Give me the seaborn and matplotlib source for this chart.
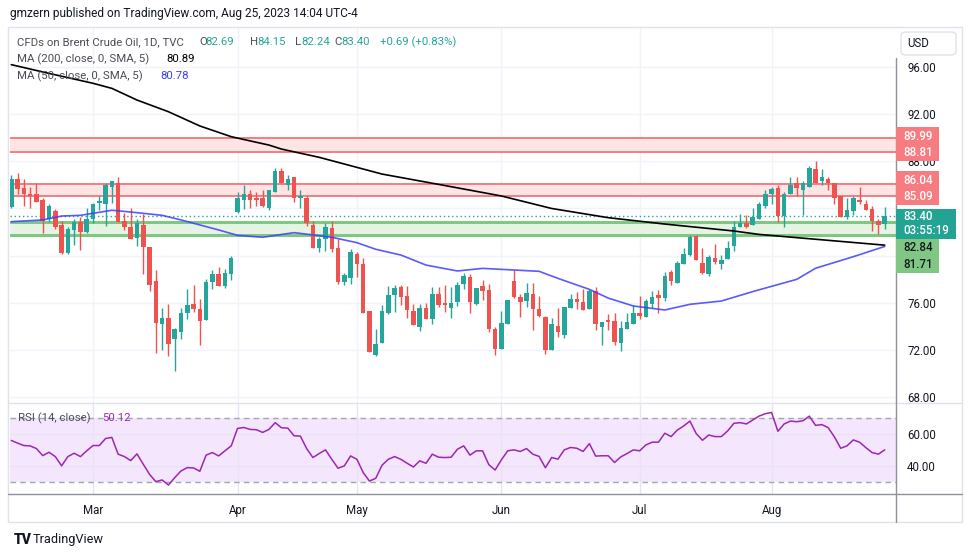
import matplotlib
matplotlib.use("Agg")
import matplotlib.pyplot as plt
from matplotlib.patches import Rectangle, FancyBboxPatch
from matplotlib.lines import Line2D
import seaborn as sns
import numpy as np

sns.set_style("white")
plt.rcParams['font.family'] = ['Roboto', 'DejaVu Sans']

# Daily candles, Brent CFD (TVC), mid Feb - Aug 25 2023
opens = [84.14, 86.54, 85.78, 85.27, 85.19, 84.68, 83.07, 83.75, 82.56, 80.21,
         82.16, 82.82, 82.00, 83.10, 84.45, 84.37, 85.80, 86.20, 82.90, 82.47,
         81.49, 82.56, 80.72, 77.81, 74.20, 74.68, 72.93, 73.52, 75.10, 75.89,
         75.44, 74.54, 77.79, 78.41, 77.39, 78.44, 83.66, 84.76, 85.19, 84.85,
         84.85, 84.08, 85.44, 87.22, 86.03, 86.71, 84.93, 84.93, 82.64, 80.69,
         81.37, 82.31, 80.69, 77.73, 78.07, 80.10, 79.25, 75.27, 71.54, 72.56,
         75.10, 76.63, 77.30, 76.54, 75.27, 73.92, 75.53, 74.59, 76.71, 75.95,
         75.53, 76.03, 77.56, 78.15, 75.86, 77.39, 77.05, 73.75, 72.05, 74.17,
         77.81, 76.46, 76.12, 76.71, 75.44, 74.76, 71.97, 74.00, 73.24, 75.53,
         76.29, 76.03, 75.44, 76.97, 73.92, 74.51, 74.42, 72.56, 73.75, 74.17,
         75.10, 74.76, 75.86, 76.63, 76.37, 78.58, 77.64, 79.25, 80.02, 81.63,
         79.34, 78.41, 79.76, 79.25, 79.68, 80.78, 82.47, 82.73, 82.64, 83.15,
         84.17, 85.19, 85.78, 83.35, 85.19, 86.20, 85.61, 85.86, 87.39, 86.29,
         86.54, 86.12, 85.02, 83.24, 83.75, 84.76, 84.42, 83.92, 82.98, 82.69]
highs = [86.88, 86.97, 86.46, 85.86, 86.20, 84.85, 84.34, 83.92, 82.98, 82.47,
         83.07, 83.24, 84.00, 84.50, 85.10, 86.20, 86.37, 86.71, 83.58, 84.00,
         83.07, 83.49, 80.75, 78.75, 75.53, 75.86, 73.83, 75.53, 77.14, 77.47,
         76.29, 77.98, 78.75, 79.00, 78.83, 79.93, 85.36, 86.03, 85.53, 85.44,
         85.53, 85.61, 87.47, 87.47, 86.88, 86.71, 85.61, 85.10, 82.90, 81.54,
         82.81, 82.90, 81.37, 78.49, 80.53, 80.27, 79.76, 75.27, 73.75, 75.78,
         77.39, 77.47, 77.47, 77.39, 75.86, 75.86, 75.95, 77.30, 77.30, 77.47,
         77.30, 77.73, 78.49, 78.41, 77.22, 77.90, 77.56, 73.92, 75.27, 76.20,
         78.75, 76.71, 77.64, 77.64, 76.54, 74.85, 74.68, 75.53, 75.61, 76.71,
         76.88, 77.14, 77.14, 77.30, 74.34, 75.02, 75.10, 74.42, 75.10, 75.78,
         76.54, 76.29, 76.97, 77.05, 78.58, 78.75, 79.51, 80.61, 81.71, 81.71,
         80.61, 80.02, 80.95, 80.02, 81.20, 82.90, 83.49, 83.41, 84.08, 84.51,
         85.61, 85.86, 85.95, 85.44, 86.63, 86.71, 86.37, 87.64, 88.07, 87.39,
         86.71, 86.12, 85.02, 84.85, 85.10, 85.86, 84.68, 84.25, 83.15, 84.15]
lows = [84.06, 85.24, 84.25, 84.00, 84.55, 81.88, 82.84, 82.30, 80.15, 80.15,
        80.90, 80.49, 81.95, 82.76, 83.90, 82.50, 84.50, 82.84, 82.14, 81.37,
        80.80, 78.43, 77.00, 71.77, 71.97, 71.49, 70.21, 72.93, 74.62, 75.21,
        72.42, 74.54, 77.19, 77.42, 77.25, 77.95, 83.58, 83.92, 84.08, 84.17,
        84.15, 83.83, 85.44, 86.12, 85.61, 84.59, 84.00, 82.50, 80.69, 80.27,
        80.36, 80.27, 77.56, 77.47, 77.56, 78.15, 75.10, 71.80, 71.46, 72.56,
        75.02, 75.19, 75.78, 74.68, 74.08, 73.58, 74.59, 74.17, 75.61, 75.19,
        74.68, 75.70, 77.14, 75.10, 75.78, 76.20, 73.49, 71.54, 72.05, 74.17,
        76.37, 74.76, 75.61, 73.66, 74.76, 71.63, 71.97, 73.07, 72.98, 75.53,
        75.44, 75.36, 75.44, 73.66, 72.39, 73.66, 72.39, 71.88, 73.75, 74.17,
        74.59, 74.76, 75.53, 75.10, 76.12, 77.47, 77.64, 79.25, 79.93, 79.59,
        78.41, 78.24, 79.25, 78.83, 79.68, 80.36, 82.47, 82.31, 82.64, 83.15,
        84.00, 84.34, 82.84, 82.39, 85.19, 85.10, 83.41, 85.86, 86.20, 85.95,
        85.61, 84.42, 83.32, 83.15, 83.41, 84.42, 83.83, 82.05, 81.80, 82.24]
closes = [86.46, 85.69, 85.19, 85.10, 84.59, 82.93, 84.25, 82.47, 80.21, 82.22,
          82.82, 82.00, 83.15, 84.34, 84.60, 85.95, 86.29, 82.87, 82.39, 81.40,
          82.73, 80.72, 77.50, 74.28, 74.68, 72.47, 73.75, 75.10, 75.80, 75.47,
          74.45, 77.73, 78.41, 77.42, 78.49, 79.76, 84.85, 85.27, 84.76, 84.68,
          84.17, 85.53, 87.22, 86.20, 86.46, 84.93, 85.10, 82.73, 80.69, 81.37,
          82.39, 80.53, 77.73, 78.32, 80.27, 79.25, 75.10, 71.80, 72.47, 75.27,
          76.63, 77.22, 76.46, 75.36, 74.08, 75.53, 74.59, 76.71, 75.78, 75.78,
          75.95, 77.47, 78.24, 76.03, 77.22, 76.97, 73.75, 72.05, 74.25, 76.20,
          76.46, 76.03, 76.80, 75.44, 74.85, 71.97, 74.17, 73.49, 75.61, 76.29,
          76.03, 75.36, 76.97, 74.17, 74.34, 74.34, 72.64, 73.83, 74.34, 75.10,
          74.85, 76.12, 76.46, 76.37, 78.24, 77.81, 79.34, 80.10, 81.54, 79.59,
          78.49, 79.85, 79.42, 79.59, 80.69, 82.47, 82.81, 82.47, 83.32, 84.42,
          85.27, 85.69, 83.35, 85.19, 86.03, 85.78, 86.12, 87.47, 86.20, 86.63,
          86.12, 84.93, 83.32, 83.83, 84.85, 84.51, 83.83, 82.90, 82.64, 83.40]

# moving averages read at sample bars (bar index, value)
ma200_idx = [0, 6, 13, 16, 20, 25, 30, 35, 41, 43, 49, 59, 70, 78, 86, 95, 104, 115, 119, 128, 139]
ma200_val = [96.20, 95.46, 94.62, 94.19, 93.20, 92.21, 91.00, 90.09, 89.38, 89.04, 88.34,
             86.92, 85.85, 85.06, 84.00, 83.22, 82.68, 82.09, 81.80, 81.39, 80.89]
ma50_idx = [0, 5, 8, 11, 16, 19, 24, 27, 33, 36, 40, 45, 51, 55, 58, 62, 66, 71, 75, 84,
            87, 92, 95, 99, 104, 108, 113, 118, 125, 128, 134, 139]
ma50_val = [82.88, 83.03, 83.36, 83.42, 83.85, 83.70, 83.42, 83.03, 82.18, 81.72, 81.56,
            81.95, 81.56, 81.10, 80.54, 80.05, 79.20, 78.70, 78.92, 78.67, 78.07, 77.14,
            76.40, 75.73, 75.39, 75.87, 76.15, 76.95, 77.99, 78.93, 79.91, 80.78]

rsi = [56.0, 54.3, 52.8, 52.6, 50.9, 46.5, 48.6, 45.9, 40.1, 45.9,
       48.0, 45.9, 49.5, 52.8, 52.8, 57.2, 57.9, 47.4, 45.9, 43.4,
       47.6, 41.1, 34.8, 30.2, 31.3, 28.1, 32.7, 36.9, 39.0, 38.8,
       36.7, 46.8, 48.4, 46.3, 49.5, 52.6, 63.5, 64.1, 62.9, 62.7,
       61.0, 62.9, 67.1, 63.9, 63.7, 58.9, 58.7, 50.9, 45.3, 47.8,
       50.1, 44.2, 38.6, 40.1, 46.3, 44.2, 35.9, 30.6, 32.3, 40.5,
       44.2, 45.9, 44.2, 41.7, 39.4, 43.2, 41.7, 47.4, 45.5, 45.3,
       45.5, 50.5, 52.6, 46.8, 49.5, 49.5, 40.8, 37.5, 43.9, 49.5,
       50.1, 49.1, 50.9, 47.4, 46.0, 38.9, 45.3, 44.3, 50.1, 51.6,
       51.1, 49.1, 54.0, 46.2, 46.4, 46.4, 42.2, 45.7, 47.8, 50.1,
       49.5, 53.2, 54.9, 54.9, 60.5, 58.4, 62.5, 65.0, 68.1, 60.3,
       56.1, 59.4, 58.4, 58.4, 61.9, 66.7, 67.1, 66.3, 68.8, 71.2,
       72.7, 73.5, 61.7, 66.3, 68.1, 67.7, 68.3, 71.2, 65.4, 65.9,
       64.0, 58.2, 51.1, 52.6, 56.3, 54.9, 51.5, 48.4, 47.4, 50.1]

month_labels = ["Mar", "Apr", "May", "Jun", "Jul", "Aug"]
month_idx = [13, 36, 55, 78, 100, 121]
price_ticks = [68, 72, 76, 80, 84, 88, 92, 96]

red_zones = [(88.81, 89.99), (85.09, 86.04)]
green_zone = (81.71, 82.84)
last_price = 83.40

TEAL = '#26a69a'
RED = '#ef5350'
GRID = '#f0f3fa'
TXT = '#131722'
LBL = '#4a4d57'

W, H = 970, 557
fig = plt.figure(figsize=(W / 100, H / 100), dpi=100)


def fx(x):
    return x / W


def fy(y):
    return 1 - y / H


# panes (pixel layout of the screenshot)
ax = fig.add_axes([fx(10), fy(403), (896 - 10) / W, (403 - 28) / H])
ax_rsi = fig.add_axes([fx(10), fy(494), (896 - 10) / W, (494 - 403) / H])

idx = np.arange(len(closes))
o = np.array(opens); c = np.array(closes)
cols = np.where(c >= o, TEAL, RED)

# zones
for lo, hi in red_zones:
    ax.axhspan(lo, hi, color='#fde4e5', lw=0, zorder=1)
    ax.axhline(lo, color='#f77c80', lw=1.4, zorder=2)
    ax.axhline(hi, color='#f77c80', lw=1.4, zorder=2)
ax.axhspan(green_zone[0], green_zone[1], color='#e6f4e4', lw=0, zorder=1)
ax.axhline(green_zone[0], color='#81c784', lw=2.2, zorder=2)
ax.axhline(green_zone[1], color='#81c784', lw=2.2, zorder=2)

# candles
ax.vlines(idx, lows, highs, colors=cols, lw=1, zorder=4)
body_h = np.maximum(np.abs(c - o), 0.07)
ax.bar(idx, body_h, bottom=np.minimum(o, c), width=0.72, color=cols, lw=0, zorder=5)

ax.axhline(last_price, color=TEAL, lw=1, ls=(0, (1, 2)), zorder=3)

sns.lineplot(x=ma200_idx, y=ma200_val, ax=ax, color='black', lw=1.2, zorder=6)
sns.lineplot(x=ma50_idx, y=ma50_val, ax=ax, color='#3d3dff', lw=1.2, alpha=0.85, zorder=6)

ax.set_xlim(-0.21, 140.8)
ax.set_ylim(67.5, 99.31)
ax.set_yticks(price_ticks)
# 84 and 80 sit under the price-scale boxes
ax.set_yticklabels(["" if t in (80, 84) else f"{t:.2f}" for t in price_ticks])
ax.set_xticks(month_idx)
ax.set_xticklabels([])
ax.yaxis.tick_right()
ax.tick_params(axis='both', length=0)
ax.tick_params(axis='y', pad=8, labelsize=8.3, labelcolor=TXT)
ax.grid(True, color=GRID, lw=1)
ax.set_xlabel('')
ax.set_ylabel('')
for s in ax.spines.values():
    s.set_visible(False)

# RSI pane
ax_rsi.axhspan(30, 70, color='#f3e6fd', lw=0, zorder=0)
ax_rsi.axhline(70, color='#a3a6ae', lw=1, ls=(0, (4, 3)), zorder=1)
ax_rsi.axhline(30, color='#a3a6ae', lw=1, ls=(0, (4, 3)), zorder=1)
sns.lineplot(x=idx, y=rsi, ax=ax_rsi, color='#9c27b0', lw=1.1, zorder=3)
ax_rsi.set_xlim(-0.21, 140.8)
ax_rsi.set_ylim(22.5, 79.4)
ax_rsi.set_yticks([40, 60])
ax_rsi.set_yticklabels(["40.00", "60.00"])
ax_rsi.set_xticks(month_idx)
ax_rsi.set_xticklabels(month_labels)
ax_rsi.yaxis.tick_right()
ax_rsi.tick_params(axis='both', length=0, labelsize=8.3, labelcolor=TXT)
ax_rsi.tick_params(axis='y', pad=8)
ax_rsi.tick_params(axis='x', pad=7)
ax_rsi.grid(True, color='#e9e3f5', lw=1)
ax_rsi.set_xlabel('')
ax_rsi.set_ylabel('')
for s in ax_rsi.spines.values():
    s.set_visible(False)

# frame lines
fig.add_artist(Rectangle((fx(8), fy(522)), (962 - 8) / W, (522 - 27) / H, transform=fig.transFigure,
                         fill=False, ec='#e0e3eb', lw=1))
fig.add_artist(Line2D([fx(8), fx(962)], [fy(403), fy(403)], transform=fig.transFigure, color='#e0e3eb', lw=1))
fig.add_artist(Line2D([fx(8), fx(962)], [fy(494), fy(494)], transform=fig.transFigure, color='#8f929b', lw=1))
fig.add_artist(Line2D([fx(896), fx(896)], [fy(58), fy(522)], transform=fig.transFigure, color='#8f929b', lw=1))

# USD button
fig.add_artist(FancyBboxPatch((fx(901), fy(55)), 55 / W, 23 / H, boxstyle="round,pad=0,rounding_size=0.006",
                              transform=fig.transFigure, fc='white', ec='#e0e3eb', lw=1))
fig.text(fx(918), fy(43.5), "USD", fontsize=8.3, color=TXT, ha='center', va='center')


# price scale labels
def scale_box(y0, y1, color, width=43):
    fig.add_artist(Rectangle((fx(896), fy(y1)), width / W, (y1 - y0) / H, transform=fig.transFigure,
                             fc=color, ec='none', zorder=5))


def scale_text(y, s, color):
    fig.text(fx(903), fy(y), s, fontsize=8.3, color=color, ha='left', va='center',
             fontweight='medium', zorder=6)


scale_box(127.5, 161, '#f77c80')
scale_text(136, "89.99", 'white')
scale_text(152.5, "88.81", 'white')
scale_box(171.5, 205, '#f77c80')
scale_text(180, "86.04", 'white')
scale_text(196.5, "85.09", 'white')
scale_box(208.5, 238.5, '#22a394', width=60)
scale_text(216.5, f"{last_price:.2f}", 'white')
scale_text(230.5, "03:55:19", 'white')
scale_box(239.5, 272.5, '#81c784')
scale_text(248, "82.84", TXT)
scale_text(264, "81.71", TXT)

# header and legends
fig.text(fx(10), fy(13), "gmzern published on TradingView.com, Aug 25, 2023 14:04 UTC-4",
         fontsize=8.6, color=TXT, va='center')
fs = 8.2
fig.text(fx(17), fy(42), "CFDs on Brent Crude Oil, 1D, TVC", fontsize=fs, color=LBL, va='center')
for xl, letter, xv, val in [(199, "O", 205, "82.69"), (250, "H", 257, "84.15"),
                            (295.5, "L", 301, "82.24"), (334.5, "C", 341, "83.40")]:
    fig.text(fx(xl), fy(42), letter, fontsize=fs, color=LBL, va='center')
    fig.text(fx(xv), fy(42), val, fontsize=fs, color=TEAL, va='center')
fig.text(fx(380), fy(42), "+0.69 (+0.83%)", fontsize=fs, color=TEAL, va='center')
fig.text(fx(17), fy(59), "MA (200, close, 0, SMA, 5)", fontsize=fs, color=LBL, va='center')
fig.text(fx(166), fy(59), "80.89", fontsize=fs, color='black', va='center')
fig.text(fx(17), fy(76), "MA (50, close, 0, SMA, 5)", fontsize=fs, color=LBL, va='center')
fig.text(fx(160), fy(76), "80.78", fontsize=fs, color='#3d3dff', va='center')
fig.text(fx(18), fy(418), "RSI (14, close)", fontsize=fs, color=LBL, va='center')
fig.text(fx(102), fy(418), "50.12", fontsize=fs, color='#9c27b0', va='center')

# footer logo
fig.text(fx(14), fy(540), "TV", fontsize=10, fontweight='black', color=TXT, va='center')
fig.text(fx(33), fy(540), "TradingView", fontsize=9.2, color=TXT, va='center')

fig.savefig("out.png", dpi=100, facecolor='white')
